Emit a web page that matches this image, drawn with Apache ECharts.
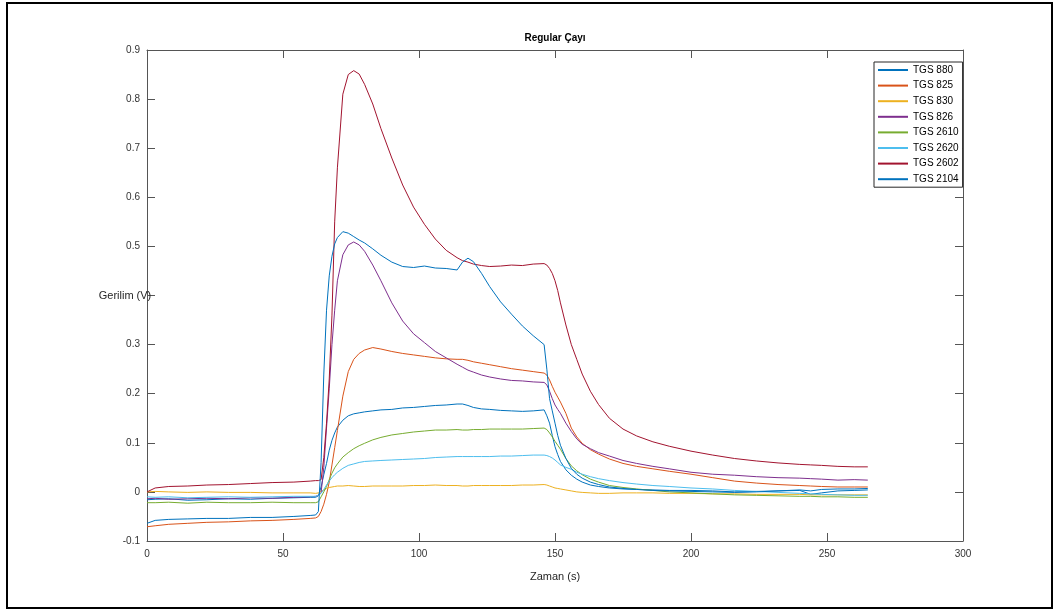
<!DOCTYPE html>
<html><head><meta charset="utf-8">
<script src="https://cdn.jsdelivr.net/npm/echarts@6/dist/echarts.min.js"></script>
<style>html,body{margin:0;padding:0;background:#fff}#c{width:1059px;height:612px}</style>
</head><body><div id="c"></div>
<script>
const zaman = [0,3,8,15,22,30,38,46,54,60,62,63,64,65,66,67,68,69,70,72,74,76,78,80,83,86,90,94,98,102,106,110,114,116,118,120,123,126,130,134,138,142,146,147,148,149,150,151,152,154,156,158,160,163,166,170,175,180,186,192,200,208,216,224,232,240,244,248,254,260,265];

const tgs880 = [-0.016,-0.015,-0.014,-0.017,-0.016,-0.014,-0.015,-0.013,-0.012,-0.011,-0.011,-0.008,0.01,0.035,0.058,0.085,0.105,0.12,0.132,0.146,0.155,0.159,0.161,0.163,0.165,0.167,0.168,0.171,0.172,0.174,0.176,0.177,0.179,0.179,0.176,0.172,0.169,0.168,0.166,0.165,0.164,0.165,0.167,0.155,0.14,0.115,0.092,0.076,0.062,0.045,0.034,0.026,0.02,0.014,0.011,0.008,0.006,0.005,0.004,0.003,0.003,0.002,0.0,0.001,0.002,0.003,-0.005,-0.002,0.002,0.003,0.004];

const tgs825 = [-0.071,-0.069,-0.066,-0.064,-0.062,-0.061,-0.059,-0.058,-0.056,-0.054,-0.053,-0.05,-0.04,-0.025,-0.005,0.02,0.055,0.09,0.125,0.195,0.245,0.27,0.282,0.289,0.294,0.291,0.286,0.282,0.279,0.276,0.273,0.271,0.27,0.27,0.268,0.265,0.262,0.259,0.255,0.251,0.248,0.245,0.242,0.238,0.228,0.215,0.203,0.193,0.183,0.16,0.13,0.112,0.099,0.086,0.077,0.067,0.058,0.052,0.047,0.042,0.036,0.029,0.022,0.018,0.015,0.013,0.012,0.011,0.01,0.01,0.01];

const tgs830 = [0.0,0.001,0.0,-0.001,0.0,-0.001,-0.001,-0.002,-0.002,-0.002,-0.003,-0.002,0.001,0.004,0.007,0.009,0.01,0.011,0.012,0.012,0.013,0.012,0.011,0.011,0.012,0.012,0.012,0.012,0.013,0.013,0.014,0.013,0.013,0.012,0.012,0.013,0.013,0.013,0.013,0.013,0.014,0.014,0.015,0.014,0.012,0.01,0.008,0.007,0.006,0.004,0.002,0.0,-0.001,-0.002,-0.003,-0.003,-0.002,-0.002,-0.002,-0.003,-0.003,-0.004,-0.004,-0.005,-0.005,-0.005,-0.006,-0.006,-0.006,-0.006,-0.006];

const tgs826 = [-0.014,-0.013,-0.015,-0.014,-0.013,-0.014,-0.012,-0.013,-0.011,-0.01,-0.009,-0.007,-0.002,0.05,0.13,0.21,0.3,0.37,0.43,0.483,0.503,0.509,0.503,0.49,0.462,0.43,0.385,0.348,0.322,0.304,0.286,0.273,0.26,0.254,0.248,0.244,0.238,0.234,0.23,0.227,0.226,0.224,0.223,0.218,0.205,0.19,0.177,0.168,0.16,0.14,0.123,0.108,0.097,0.088,0.08,0.073,0.064,0.058,0.052,0.047,0.04,0.036,0.034,0.031,0.029,0.028,0.027,0.026,0.024,0.025,0.024];

const tgs2610 = [-0.022,-0.022,-0.021,-0.023,-0.021,-0.022,-0.022,-0.021,-0.022,-0.022,-0.022,-0.02,-0.01,0.0,0.011,0.025,0.038,0.049,0.057,0.071,0.08,0.088,0.094,0.099,0.106,0.111,0.116,0.119,0.122,0.124,0.126,0.126,0.127,0.126,0.126,0.127,0.127,0.128,0.128,0.128,0.128,0.129,0.13,0.127,0.12,0.112,0.103,0.095,0.087,0.068,0.053,0.043,0.035,0.026,0.02,0.013,0.009,0.006,0.003,0.0,-0.002,-0.004,-0.006,-0.007,-0.008,-0.009,-0.009,-0.01,-0.01,-0.011,-0.011];

const tgs2620 = [-0.01,-0.011,-0.01,-0.012,-0.011,-0.01,-0.011,-0.01,-0.009,-0.009,-0.009,-0.007,-0.003,0.005,0.014,0.022,0.029,0.035,0.04,0.048,0.054,0.057,0.06,0.062,0.063,0.064,0.065,0.066,0.067,0.068,0.07,0.071,0.072,0.072,0.072,0.072,0.072,0.072,0.073,0.073,0.074,0.075,0.075,0.074,0.072,0.069,0.065,0.06,0.055,0.05,0.046,0.04,0.036,0.031,0.027,0.023,0.019,0.016,0.013,0.011,0.008,0.006,0.003,0.001,-0.001,-0.003,-0.004,-0.005,-0.006,-0.007,-0.007];

const tgs2602 = [0.0,0.008,0.011,0.012,0.014,0.015,0.017,0.019,0.02,0.022,0.023,0.023,0.025,0.07,0.14,0.23,0.36,0.55,0.66,0.81,0.85,0.858,0.851,0.83,0.79,0.74,0.68,0.625,0.58,0.545,0.515,0.492,0.477,0.471,0.468,0.464,0.461,0.459,0.46,0.462,0.461,0.464,0.465,0.462,0.455,0.445,0.43,0.41,0.385,0.34,0.3,0.27,0.24,0.205,0.178,0.15,0.128,0.114,0.102,0.093,0.083,0.075,0.068,0.063,0.059,0.056,0.055,0.054,0.052,0.051,0.051];

const tgs2104 = [-0.064,-0.058,-0.056,-0.055,-0.054,-0.054,-0.052,-0.052,-0.05,-0.048,-0.047,-0.04,0.06,0.24,0.37,0.44,0.48,0.505,0.518,0.53,0.527,0.52,0.513,0.507,0.495,0.482,0.468,0.459,0.457,0.46,0.456,0.455,0.452,0.468,0.476,0.469,0.445,0.418,0.387,0.362,0.338,0.318,0.3,0.25,0.19,0.165,0.14,0.115,0.095,0.068,0.048,0.036,0.028,0.02,0.015,0.01,0.007,0.005,0.003,0.002,0.001,0.0,-0.001,0.0,0.002,0.004,0.002,0.005,0.006,0.006,0.007];

const seriesNames = ['TGS 880','TGS 825','TGS 830','TGS 826','TGS 2610','TGS 2620','TGS 2602','TGS 2104'];
const seriesValues = [tgs880,tgs825,tgs830,tgs826,tgs2610,tgs2620,tgs2602,tgs2104];
const colors = ['#0072BD','#D95319','#EDB120','#7E2F8E','#77AC30','#4DBEEE','#A2142F','#0072BD'];
const xTicks = {min:0, max:300, interval:50};
const yTicks = {min:-0.1, max:0.9, interval:0.1};

const FONT = '"Liberation Sans", Arial, sans-serif';
const axisCol = '#555';
const chart = echarts.init(document.getElementById('c'), null, {renderer:'canvas'});

function pairs(v){ return zaman.map((t,i)=>[t,v[i]]); }
function fmtY(v){ const r = Math.round(v*10)/10; return r === 0.4 ? '' : String(r); }

const baseAxis = {
  axisLine:{show:true, onZero:false, lineStyle:{color:axisCol, width:1}},
  axisTick:{show:true, inside:true, length:8, lineStyle:{color:axisCol, width:1}},
  splitLine:{show:false}
};

chart.setOption({
  animation:false,
  backgroundColor:'#fff',
  grid:{left:147, right:96, top:50, bottom:71, containLabel:false},
  xAxis:[
    Object.assign({type:'value', position:'bottom', min:xTicks.min, max:xTicks.max, interval:xTicks.interval,
      name:'Zaman (s)', nameLocation:'middle', nameGap:30,
      nameTextStyle:{fontFamily:FONT, fontSize:11, color:'#262626'},
      axisLabel:{show:true, margin:8, fontFamily:FONT, fontSize:10, color:'#333'}}, baseAxis),
    Object.assign({type:'value', position:'top', min:xTicks.min, max:xTicks.max, interval:xTicks.interval,
      axisLabel:{show:false}}, baseAxis)
  ],
  yAxis:[
    Object.assign({type:'value', position:'left', min:yTicks.min, max:yTicks.max, interval:yTicks.interval,
      axisLabel:{show:true, margin:7, fontFamily:FONT, fontSize:10, color:'#333', formatter:fmtY}}, baseAxis),
    Object.assign({type:'value', position:'right', min:yTicks.min, max:yTicks.max, interval:yTicks.interval,
      axisLabel:{show:false}}, baseAxis)
  ],
  legend:{
    show:true, orient:'vertical', left:874, top:62, selectedMode:false,
    itemWidth:30, itemHeight:12, itemGap:3.6, padding:[2,4,2,3],
    itemStyle:{opacity:0, borderWidth:0},
    borderColor:'#262626', borderWidth:1, backgroundColor:'#fff',
    textStyle:{fontFamily:FONT, fontSize:10, color:'#000', lineHeight:12},
    data:seriesNames
  },
  graphic:[
    {type:'rect', shape:{x:7, y:3, width:1045, height:605}, style:{fill:'none', stroke:'#000', lineWidth:2}, z:100, silent:true},
    {type:'text', x:555, y:38, style:{text:'Regular Çayı', font:'bold 10px "Liberation Sans", Arial, sans-serif', fill:'#000', textAlign:'center', textVerticalAlign:'middle'}, z:100},
    {type:'text', x:125, y:296, style:{text:'Gerilim (V)', font:'11px "Liberation Sans", Arial, sans-serif', fill:'#262626', textAlign:'center', textVerticalAlign:'middle'}, z:100}
  ],
  series: seriesNames.map((n,i)=>({
    name:n, type:'line', data:pairs(seriesValues[i]), xAxisIndex:0, yAxisIndex:0,
    symbol:'none', showSymbol:false, smooth:false,
    lineStyle:{color:colors[i], width:1}, itemStyle:{color:colors[i]}
  }))
});
</script></body></html>
